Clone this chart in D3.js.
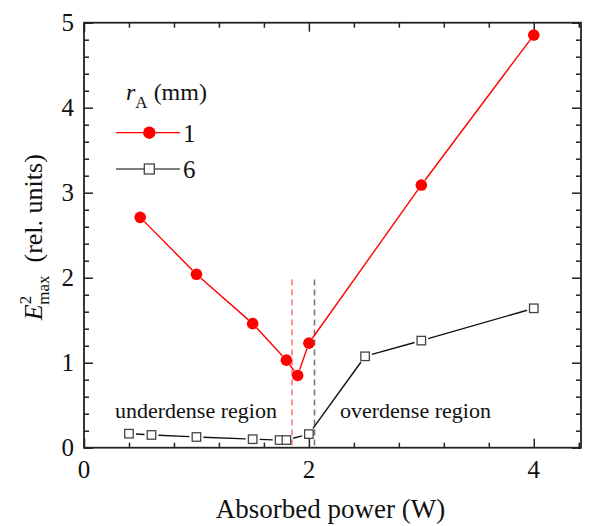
<!DOCTYPE html>
<html>
<head>
<meta charset="utf-8">
<script src="https://cdn.jsdelivr.net/npm/d3@7"></script>
<style>
  html, body { margin: 0; padding: 0; background: #fff; }
  svg { display: block; }
</style>
</head>
<body>
<svg id="chart" width="596" height="526"></svg>
<script>
// Absorbed power (W) and E^2_max (rel. units) for two antenna radii r_A
const powerR1 = [0.5, 1.0, 1.5, 1.8, 1.9, 2.0, 3.0, 4.0];
const emaxR1  = [2.71, 2.04, 1.46, 1.03, 0.85, 1.23, 3.09, 4.855];
const powerR6 = [0.4, 0.6, 1.0, 1.5, 1.74, 1.8, 2.0, 2.5, 3.0, 4.0];
const emaxR6  = [0.165, 0.15, 0.126, 0.10, 0.09, 0.09, 0.16, 1.075, 1.26, 1.64];

const seriesLabels = ["1", "6"];
const xTickLabels = [0, 2, 4];
const yTickLabels = [0, 1, 2, 3, 4, 5];

// Region boundaries (W) and the height the dashed markers reach
const boundaryPower = [1.85, 2.05];
const boundaryTop = 1.98;
const regionLabels = ["underdense region", "overdense region"];

const FONT = "Liberation Serif";
const svg = d3.select("#chart");
const plotL = 84, plotR = 581, plotT = 22.7, plotB = 447.7;

const x = d3.scaleLinear().domain([0, 4.42]).range([plotL, plotR]);
const y = d3.scaleLinear().domain([0, 5]).range([plotB, plotT]);

const minorX = d3.range(0, 4.41, 0.4).map(v => +v.toFixed(2));
const minorY = d3.range(0, 5.01, 0.2).map(v => +v.toFixed(2));

const frameColor = "#222";

function label(parent, size) {
  return parent.append("text").attr("font-family", FONT).attr("font-size", size).attr("fill", "#111");
}

// Axes with inward ticks on all four sides
function tickAxis(axisGen, values, size, transform) {
  const g = svg.append("g").attr("transform", transform)
    .call(axisGen.tickValues(values).tickSize(size).tickFormat(""));
  g.select(".domain").remove();
  g.selectAll(".tick line").attr("stroke", frameColor).attr("stroke-width", 1.5);
  return g;
}
const isMajorX = v => Math.abs(v - Math.round(v / 2) * 2) < 1e-6;
const isMajorY = v => Math.abs(v - Math.round(v)) < 1e-6;

tickAxis(d3.axisTop(x), minorX.filter(v => !isMajorX(v)), 5, `translate(0,${plotB})`);
tickAxis(d3.axisTop(x), xTickLabels, 9, `translate(0,${plotB})`);
tickAxis(d3.axisBottom(x), minorX.filter(v => !isMajorX(v)), 5, `translate(0,${plotT})`);
tickAxis(d3.axisBottom(x), xTickLabels, 9, `translate(0,${plotT})`);
tickAxis(d3.axisRight(y), minorY.filter(v => !isMajorY(v)), 5, `translate(${plotL},0)`);
tickAxis(d3.axisRight(y), yTickLabels, 9, `translate(${plotL},0)`);
tickAxis(d3.axisLeft(y), minorY.filter(v => !isMajorY(v)), 5, `translate(${plotR},0)`);
tickAxis(d3.axisLeft(y), yTickLabels, 9, `translate(${plotR},0)`);

svg.append("rect")
  .attr("x", plotL).attr("y", plotT)
  .attr("width", plotR - plotL).attr("height", plotB - plotT)
  .attr("fill", "none").attr("stroke", frameColor).attr("stroke-width", 1.8);

// Tick labels
xTickLabels.forEach(d => {
  label(svg, 25).attr("x", x(d)).attr("y", plotB + 30)
    .attr("text-anchor", "middle").text(d);
});
yTickLabels.forEach(d => {
  label(svg, 25).attr("x", plotL - 10).attr("y", y(d) + 8)
    .attr("text-anchor", "end").text(d);
});

// Axis titles
label(svg, 27)
  .attr("x", (plotL + plotR) / 2 - 2).attr("y", 518)
  .attr("text-anchor", "middle")
  .text("Absorbed power (W)");

const yTitle = label(svg, 26)
  .attr("transform", `translate(42,${(plotT + plotB) / 2 + 2}) rotate(-90)`)
  .attr("text-anchor", "middle");
yTitle.append("tspan").attr("font-style", "italic").text("E");
yTitle.append("tspan").attr("font-size", 17).attr("dy", -11).text("2");
yTitle.append("tspan").attr("font-size", 17).attr("dx", -9).attr("dy", 18).text("max");
yTitle.append("tspan").attr("dy", -7).text("\u2002(rel. units)");

// Dashed region boundaries
svg.append("line")
  .attr("x1", x(boundaryPower[0])).attr("x2", x(boundaryPower[0]))
  .attr("y1", y(boundaryTop)).attr("y2", plotB)
  .attr("stroke", "#ff2a2a").attr("stroke-width", 1).attr("stroke-dasharray", "6,4");
svg.append("line")
  .attr("x1", x(boundaryPower[1])).attr("x2", x(boundaryPower[1]))
  .attr("y1", y(boundaryTop)).attr("y2", plotB)
  .attr("stroke", "#777").attr("stroke-width", 1.6).attr("stroke-dasharray", "6,4");

// Region labels
label(svg, 22).attr("x", 115).attr("y", 418).text(regionLabels[0]);
label(svg, 22).attr("x", 340).attr("y", 418).text(regionLabels[1]);

// Connecting segments stop short of the symbols
function drawSegments(xs, ys, gap, color, width) {
  const pts = xs.map((v, i) => [x(v), y(ys[i])]);
  const segs = [];
  for (let i = 0; i < pts.length - 1; i++) {
    const [x1, y1] = pts[i], [x2, y2] = pts[i + 1];
    const len = Math.hypot(x2 - x1, y2 - y1);
    if (len <= 2 * gap) continue;
    const ux = (x2 - x1) / len, uy = (y2 - y1) / len;
    segs.push([x1 + ux * gap, y1 + uy * gap, x2 - ux * gap, y2 - uy * gap]);
  }
  svg.append("g").selectAll("line").data(segs).join("line")
    .attr("x1", d => d[0]).attr("y1", d => d[1])
    .attr("x2", d => d[2]).attr("y2", d => d[3])
    .attr("stroke", color).attr("stroke-width", width);
}

drawSegments(powerR6, emaxR6, 7, "#111", 1.4);
drawSegments(powerR1, emaxR1, 6, "#ff0000", 1.4);

const sq = 8.5;
svg.append("g").selectAll("rect").data(powerR6).join("rect")
  .attr("x", d => x(d) - sq / 2).attr("y", (d, i) => y(emaxR6[i]) - sq / 2)
  .attr("width", sq).attr("height", sq)
  .attr("fill", "#fff").attr("stroke", "#444").attr("stroke-width", 1.3);

svg.append("g").selectAll("circle").data(powerR1).join("circle")
  .attr("cx", d => x(d)).attr("cy", (d, i) => y(emaxR1[i]))
  .attr("r", 5.8).attr("fill", "#ff0000");

// Legend
const legend = svg.append("g");
const lt = label(legend, 24).attr("x", 126).attr("y", 100);
lt.append("tspan").attr("font-style", "italic").text("r");
lt.append("tspan").attr("font-size", 17).attr("dy", 8).text("A");
lt.append("tspan").attr("dy", -8).attr("dx", 6).text("(mm)");

legend.append("line").attr("x1", 116).attr("x2", 180).attr("y1", 132.7).attr("y2", 132.7)
  .attr("stroke", "#ff0000").attr("stroke-width", 1.3);
legend.append("circle").attr("cx", 149.3).attr("cy", 132.7).attr("r", 6.2).attr("fill", "#ff0000");
label(legend, 25).attr("x", 183).attr("y", 141.5).text(seriesLabels[0]);

legend.append("line").attr("x1", 116).attr("x2", 180).attr("y1", 169).attr("y2", 169)
  .attr("stroke", "#555").attr("stroke-width", 1.3);
legend.append("rect").attr("x", 149.3 - 5).attr("y", 169 - 5).attr("width", 10).attr("height", 10)
  .attr("fill", "#fff").attr("stroke", "#444").attr("stroke-width", 1.3);
label(legend, 25).attr("x", 183).attr("y", 178).text(seriesLabels[1]);
</script>
</body>
</html>
